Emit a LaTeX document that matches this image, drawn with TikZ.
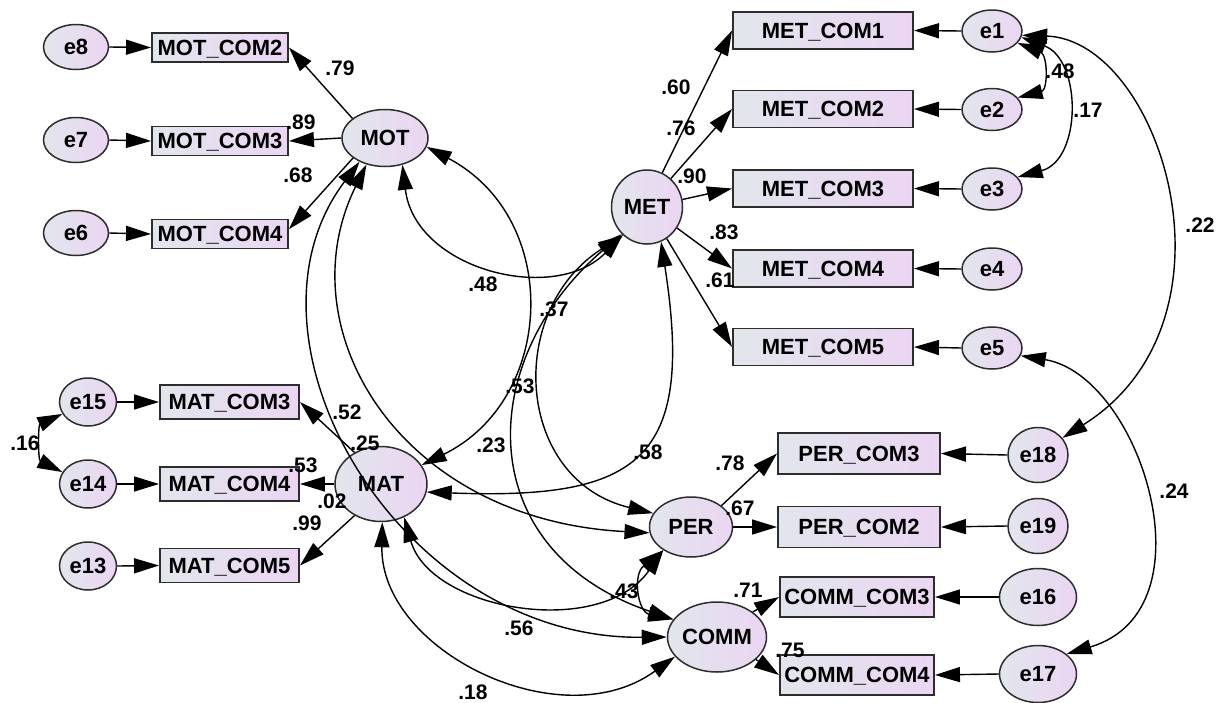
\documentclass[tikz,border=0pt]{standalone}
\usepackage{fontspec}
\setmainfont{Liberation Sans}
\usetikzlibrary{arrows.meta,shapes.geometric}
\definecolor{fillA}{RGB}{226,230,236}
\definecolor{fillB}{RGB}{235,213,243}
\definecolor{rim}{RGB}{45,45,45}

\begin{document}
\begin{tikzpicture}[x=1pt,y=-1pt,
  every node/.style={font=\fontsize{22}{24}\selectfont\bfseries},
  obs/.style={draw=rim, line width=1.9pt, rectangle, left color=fillA, right color=fillB,
              inner sep=0pt, text height=15.5pt, text depth=0pt},
  lat/.style={draw=rim, line width=1.5pt, ellipse, left color=fillA, right color=fillB,
              inner sep=0pt, text height=15.5pt, text depth=0pt},
  motbox/.style={obs, minimum width=136pt, minimum height=29pt},
  metbox/.style={obs, minimum width=180pt, minimum height=37pt},
  matbox/.style={obs, minimum width=139pt, minimum height=34pt},
  perbox/.style={obs, minimum width=162pt, minimum height=41pt},
  commbox/.style={obs, minimum width=154pt, minimum height=40pt},
  errA/.style={lat, minimum width=65pt, minimum height=45pt},
  errB/.style={lat, minimum width=60pt, minimum height=42pt},
  errC/.style={lat, minimum width=57pt, minimum height=48pt},
  errD/.style={lat, minimum width=60pt, minimum height=55pt},
  errE/.style={lat, minimum width=77pt, minimum height=57pt},
  reg/.style={line width=1.4pt, -{Triangle[length=25pt,width=15pt]}},
  cov/.style={line width=1.4pt, {Triangle[length=25pt,width=15pt]}-{Triangle[length=25pt,width=15pt]}},
  lbl/.style={font=\fontsize{21}{23}\selectfont\bfseries, inner sep=0pt}
]
\useasboundingbox (0,0) rectangle (1227,702);
\fill[white] (0,0) rectangle (1227,702);

% latent variables
\node[lat, minimum width=86pt, minimum height=57pt] (MOT) at (385,138) {MOT};
\node[lat, minimum width=71pt, minimum height=74pt] (MET) at (647,207) {MET};
\node[lat, minimum width=92pt, minimum height=75pt] (MAT) at (381,484) {MAT};
\node[lat, minimum width=83pt, minimum height=60pt] (PER) at (691,527) {PER};
\node[lat, minimum width=99pt, minimum height=70pt] (COMM) at (717,637) {COMM};

% observed indicators
\node[motbox] (MOTc2) at (220,47.5) {MOT\_COM2};
\node[motbox] (MOTc3) at (220,141) {MOT\_COM3};
\node[motbox] (MOTc4) at (220,234) {MOT\_COM4};
\node[metbox] (METc1) at (823,30.5) {MET\_COM1};
\node[metbox] (METc2) at (823,109) {MET\_COM2};
\node[metbox] (METc3) at (823,188.5) {MET\_COM3};
\node[metbox] (METc4) at (823,268.5) {MET\_COM4};
\node[metbox] (METc5) at (823,347) {MET\_COM5};
\node[matbox] (MATc3) at (229.5,402) {MAT\_COM3};
\node[matbox] (MATc4) at (229.5,484) {MAT\_COM4};
\node[matbox] (MATc5) at (229.5,565.5) {MAT\_COM5};
\node[perbox] (PERc3) at (859,453.5) {PER\_COM3};
\node[perbox] (PERc2) at (859,527) {PER\_COM2};
\node[commbox] (COMMc3) at (857,597) {COMM\_COM3};
\node[commbox] (COMMc4) at (857,675) {COMM\_COM4};

% error terms
\node[errA] (e8) at (76,47) {e8};
\node[errA] (e7) at (76,140) {e7};
\node[errA] (e6) at (76,233) {e6};
\node[errB] (e1) at (992,31) {e1};
\node[errB] (e2) at (992,109.5) {e2};
\node[errB] (e3) at (992,189) {e3};
\node[errB] (e4) at (992,269) {e4};
\node[errB] (e5) at (992,348) {e5};
\node[errC] (e15) at (88,402) {e15};
\node[errC] (e14) at (88,484) {e14};
\node[errC] (e13) at (88,566) {e13};
\node[errD] (e18) at (1038,455) {e18};
\node[errD] (e19) at (1038,526) {e19};
\node[errE] (e16) at (1038,597) {e16};
\node[errE] (e17) at (1038,674) {e17};

% error paths
\draw[reg] (e8.east) -- (MOTc2.west);
\draw[reg] (e7.east) -- (MOTc3.west);
\draw[reg] (e6.east) -- (MOTc4.west);
\draw[reg] (e1.west) -- (METc1.east);
\draw[reg] (e2.west) -- (METc2.east);
\draw[reg] (e3.west) -- (METc3.east);
\draw[reg] (e4.west) -- (METc4.east);
\draw[reg] (e5.west) -- (METc5.east);
\draw[reg] (e15.east) -- (MATc3.west);
\draw[reg] (e14.east) -- (MATc4.west);
\draw[reg] (e13.east) -- (MATc5.west);
\draw[reg] (e18.west) -- (PERc3.east);
\draw[reg] (e19.west) -- (PERc2.east);
\draw[reg] (e16.west) -- (COMMc3.east);
\draw[reg] (e17.west) -- (COMMc4.east);

% factor loadings
\draw[reg] (MOT.149) -- (MOTc2.east);
\draw[reg] (MOT.west) -- (MOTc3.east);
\draw[reg] (MOT.212) -- (MOTc4.4);
\draw[reg] (MET.66) -- (METc1.west);
\draw[reg] (MET.50) -- (METc2.west);
\draw[reg] (MET.12) -- (METc3.west);
\draw[reg] (MET.-35) -- (METc4.west);
\draw[reg] (MET.-58) -- (METc5.west);
\draw[reg] (MAT.130) -- (MATc3.east);
\draw[reg] (MAT.west) -- (MATc4.east);
\draw[reg] (MAT.-130) -- (MATc5.east);
\draw[reg] (PER.35) -- (PERc3.west);
\draw[reg] (PER.east) -- (PERc2.west);
\draw[reg] (COMM.35) -- (COMMc3.west);
\draw[reg] (COMM.-30) -- (COMMc4.west);

% factor covariances
\draw[cov] (MOT.-57) .. controls (415,270) and (555,305) .. (MET.-131);
\draw[cov] (MOT.-12) .. controls (563,219) and (555,400) .. (MAT.25);
\draw[cov] (MOT.-125) .. controls (285,330) and (400,520) .. (PER.-172);
\draw[cov] (MOT.-137) .. controls (225,340) and (400,640) .. (COMM.180);
\draw[cov] (MET.-130) .. controls (505,310) and (515,480) .. (PER.160);
\draw[cov] (MET.-133) .. controls (475,360) and (470,550) .. (COMM.158);
\draw[cov] (MET.-68) .. controls (695,460) and (640,500) .. (MAT.-10);
\draw[cov] (MAT.-88) .. controls (380,650) and (560,740) .. (COMM.-155);
\draw[cov] (MAT.-55) .. controls (430,610) and (600,640) .. (PER.-140);
\draw[cov] (PER.-140) .. controls (632,575) and (638,612) .. (COMM.158);

% error covariances
\draw[cov] (e1.-25) .. controls (1048,55) and (1048,90) .. (e2.25);
\draw[cov] (e1.-12) .. controls (1082,60) and (1082,160) .. (e3.25);
\draw[cov] (e1.-8) .. controls (1160,40) and (1250,320) .. (e18.35);
\draw[cov] (e5.-15) .. controls (1140,375) and (1215,610) .. (e17.35);
\draw[cov] (e15.-155) .. controls (38,425) and (38,460) .. (e14.155);

% estimates
\node[lbl] (w1) at (340,68) {.79};
\node[lbl] (w2) at (301,122) {.89};
\node[lbl] (w3) at (298,175) {.68};
\node[lbl] (w4) at (676,87) {.60};
\node[lbl] (w5) at (681,128) {.76};
\node[lbl] (w6) at (692,176) {.90};
\node[lbl] (w7) at (724,232) {.83};
\node[lbl] (w8) at (720,280) {.61};
\node[lbl] (w9) at (347,412) {.52};
\node[lbl] (w10) at (365,443) {.25};
\node[lbl] (w11) at (303,465) {.53};
\node[lbl] (w12) at (332,501) {.02};
\node[lbl] (w13) at (307,523) {.99};
\node[lbl] (w14) at (730,463) {.78};
\node[lbl] (w15) at (740,508) {.67};
\node[lbl] (w16) at (748,590) {.71};
\node[lbl] (w17) at (790,650) {.75};
\node[lbl] (c1) at (483,284) {.48};
\node[lbl] (c2) at (554,309) {.37};
\node[lbl] (c3) at (520,386) {.53};
\node[lbl] (c4) at (491,445) {.23};
\node[lbl] (c5) at (648,452) {.58};
\node[lbl] (c6) at (624,591) {.43};
\node[lbl] (c7) at (519,628) {.56};
\node[lbl] (c8) at (473,692) {.18};
\node[lbl] (c9) at (1060,71) {.48};
\node[lbl] (c10) at (1088,110) {.17};
\node[lbl] (c11) at (1200,225) {.22};
\node[lbl] (c12) at (1174,491) {.24};
\node[lbl] (c13) at (25,443) {.16};
\end{tikzpicture}
\end{document}
